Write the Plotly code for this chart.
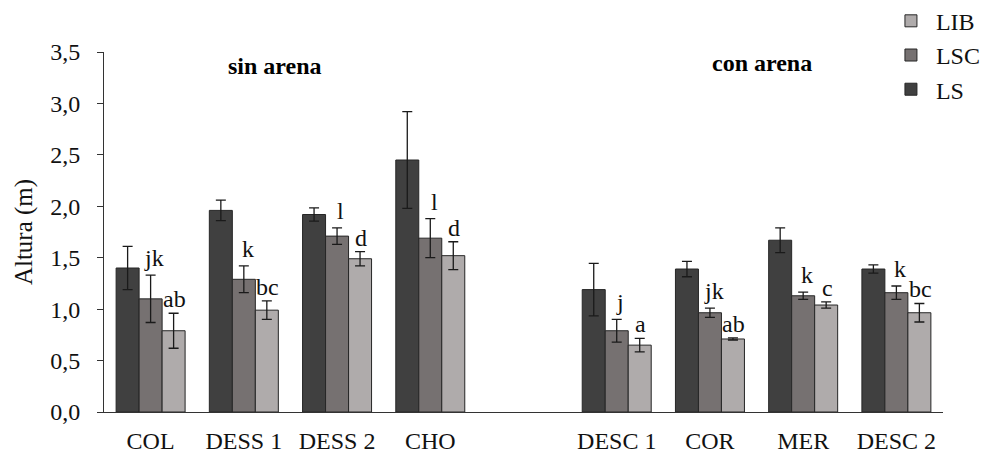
import plotly.graph_objects as go

categories = ["COL", "DESS 1", "DESS 2", "CHO", "DESC 1", "COR", "MER", "DESC 2"]
slots = [0, 1, 2, 3, 5, 6, 7, 8]

ls_vals = [1.40, 1.96, 1.92, 2.45, 1.19, 1.39, 1.67, 1.39]
ls_err = [0.21, 0.10, 0.065, 0.47, 0.255, 0.075, 0.12, 0.04]
lsc_vals = [1.10, 1.29, 1.71, 1.69, 0.79, 0.965, 1.13, 1.16]
lsc_err = [0.23, 0.13, 0.08, 0.19, 0.11, 0.045, 0.035, 0.065]
lib_vals = [0.79, 0.99, 1.49, 1.52, 0.65, 0.71, 1.04, 0.965]
lib_err = [0.17, 0.09, 0.07, 0.135, 0.065, 0.01, 0.03, 0.09]

lsc_letters = ["jk", "k", "l", "l", "j", "jk", "k", "k"]
lib_letters = ["ab", "bc", "d", "d", "a", "ab", "c", "bc"]

group_labels = ["sin arena", "con arena"]

colors = {"LS": "#404040", "LSC": "#767171", "LIB": "#AFABAB"}
FONT = "Liberation Serif"
FS = 24
bargap = 0.26
bw = (1 - bargap) / 3

fig = go.Figure()
for name, vals, errs in [("LS", ls_vals, ls_err), ("LSC", lsc_vals, lsc_err), ("LIB", lib_vals, lib_err)]:
    fig.add_trace(go.Bar(
        name=name, x=slots, y=vals,
        marker=dict(color=colors[name], line=dict(color="#262626", width=1)),
        error_y=dict(type="data", array=errs, visible=True, color="#1a1a1a", thickness=1.3, width=5),
    ))

for i, s in enumerate(slots):
    fig.add_annotation(x=s + 0.04, y=lsc_vals[i] + lsc_err[i], text=lsc_letters[i], showarrow=False,
                       yanchor="bottom", yshift=2, font=dict(family=FONT, size=FS, color="#111"))
    fig.add_annotation(x=s + bw + 0.01, y=lib_vals[i] + lib_err[i], text=lib_letters[i], showarrow=False,
                       yanchor="bottom", yshift=-1, font=dict(family=FONT, size=FS, color="#111"))

fig.add_annotation(x=1.33, y=3.36, text="<b>" + group_labels[0] + "</b>", showarrow=False,
                   font=dict(family=FONT, size=FS, color="#000"))
fig.add_annotation(x=6.56, y=3.39, text="<b>" + group_labels[1] + "</b>", showarrow=False,
                   font=dict(family=FONT, size=FS, color="#000"))

fig.update_layout(
    width=990, height=453,
    margin=dict(l=96, r=55, t=44, b=49, autoexpand=False),
    paper_bgcolor="white", plot_bgcolor="white",
    barmode="group", bargap=bargap, bargroupgap=0,
    separators=",.",
    font=dict(family=FONT, size=FS, color="#111"),
    showlegend=True,
    legend=dict(x=0.932, xanchor="left", y=1.148, yanchor="top", traceorder="reversed",
                font=dict(family=FONT, size=FS), bgcolor="rgba(0,0,0,0)", itemwidth=40,
                tracegroupgap=0),
    xaxis=dict(range=[-0.5, 8.5], tickmode="array", tickvals=slots, ticktext=categories,
               showline=True, linecolor="#333", linewidth=1, ticks="", showgrid=False, zeroline=False,
               ticklabelstandoff=7, tickfont=dict(family=FONT, size=FS)),
    yaxis=dict(range=[0, 3.5], dtick=0.5, tickformat=".1f", showline=True, linecolor="#333", linewidth=1,
               ticks="outside", ticklen=6, tickcolor="#333", showgrid=False, zeroline=False,
               ticklabelstandoff=12,
               title=dict(text="Altura (m)", font=dict(family=FONT, size=25), standoff=10),
               tickfont=dict(family=FONT, size=FS)),
)

fig.write_html("out.html")
